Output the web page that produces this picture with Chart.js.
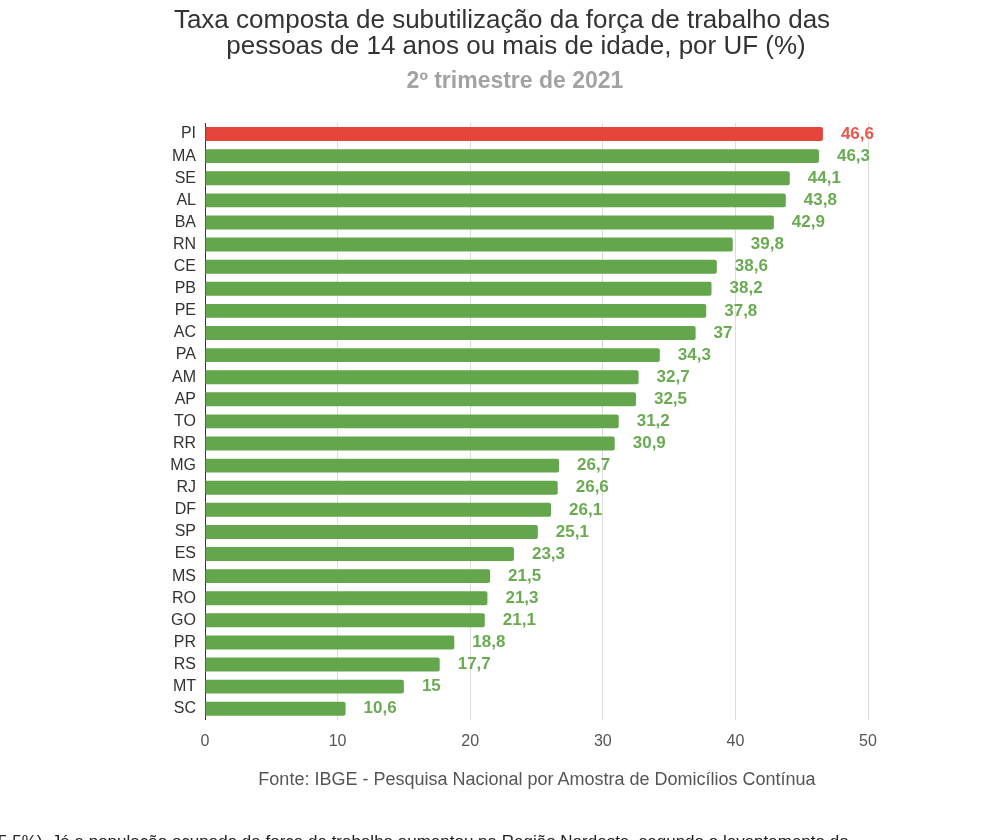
<!DOCTYPE html>
<html>
<head>
<meta charset="utf-8">
<script src="https://cdn.jsdelivr.net/npm/chart.js@4/dist/chart.umd.min.js"></script>
<style>
  body { margin: 0; background: #fff; font-family: "Liberation Sans", Arial, sans-serif; }
  #page { position: relative; width: 1000px; height: 840px; overflow: hidden; }
  #chart { position: absolute; left: 0; top: 0; }
  .centered { position: absolute; white-space: nowrap; transform: translateX(-50%); }
  .title { color: #333; font-size: 26px; line-height: 26px; }
  .subtitle { color: #a3a3a3; font-size: 23px; font-weight: bold; }
  .source { color: #555; font-size: 18px; }
  .article { position: absolute; left: -2px; top: 832px; white-space: nowrap; color: #222; font-size: 17px; }
</style>
</head>
<body>
<div id="page">
  <canvas id="chart" width="1000" height="840"></canvas>
  <div class="centered title" style="left:502px; top:6px">Taxa composta de subutilização da força de trabalho das</div>
  <div class="centered title" style="left:516px; top:32px">pessoas de 14 anos ou mais de idade, por UF (%)</div>
  <div class="centered subtitle" style="left:515px; top:67px">2º trimestre de 2021</div>
  <div class="centered source" style="left:537px; top:769px">Fonte: IBGE - Pesquisa Nacional por Amostra de Domicílios Contínua</div>
  <div class="article">5,5%). Já a população ocupada da força de trabalho aumentou na Região Nordeste, segundo o levantamento do</div>
</div>
<script>
// UFs, ordered as in the picture
const ufs = ["PI", "MA", "SE", "AL", "BA", "RN", "CE", "PB", "PE", "AC", "PA", "AM", "AP", "TO",
             "RR", "MG", "RJ", "DF", "SP", "ES", "MS", "RO", "GO", "PR", "RS", "MT", "SC"];
const taxas = [46.6, 46.3, 44.1, 43.8, 42.9, 39.8, 38.6, 38.2, 37.8, 37, 34.3, 32.7, 32.5, 31.2,
               30.9, 26.7, 26.6, 26.1, 25.1, 23.3, 21.5, 21.3, 21.1, 18.8, 17.7, 15, 10.6];
const destaque = ["PI"];
const xTicks = [0, 10, 20, 30, 40, 50];

const RED = "#e5443a";
const GREEN = "#64a64b";

const barColors = ufs.map(uf => destaque.includes(uf) ? RED : GREEN);
const labelColors = ufs.map(uf => destaque.includes(uf) ? "#e8564c" : "#6aab52");

// value labels at the end of each bar
const valueLabels = {
    id: "valueLabels",
    afterDatasetsDraw(chart) {
        const ctx = chart.ctx;
        const meta = chart.getDatasetMeta(0);
        ctx.save();
        ctx.font = "bold 17px 'Liberation Sans', Arial, sans-serif";
        ctx.textAlign = "left";
        ctx.textBaseline = "middle";
        meta.data.forEach((bar, i) => {
            ctx.fillStyle = labelColors[i];
            ctx.fillText(String(taxas[i]).replace(".", ","), bar.x + 18, bar.y);
        });
        ctx.restore();
    }
};

new Chart(document.getElementById("chart"), {
    type: "bar",
    data: {
        labels: ufs,
        datasets: [{
            data: taxas,
            backgroundColor: barColors,
            borderRadius: 2,
            borderSkipped: "start",
            categoryPercentage: 1,
            barPercentage: 0.63,
        }],
    },
    options: {
        indexAxis: "y",
        responsive: false,
        animation: false,
        layout: { padding: { top: 123, right: 132, bottom: 77, left: 0 } },
        plugins: {
            legend: { display: false },
            tooltip: { enabled: false },
        },
        scales: {
            x: {
                min: 0,
                max: 50,
                afterBuildTicks: scale => { scale.ticks = xTicks.map(v => ({ value: v })); },
                grid: { color: "#dcdcdc", drawTicks: false },
                border: { display: false },
                ticks: {
                    color: "#555",
                    padding: 12,
                    font: { family: "'Liberation Sans', Arial, sans-serif", size: 16 },
                },
            },
            y: {
                afterFit: scale => { scale.width = 205; },
                grid: { display: false, drawTicks: false },
                border: { display: true, color: "#333", width: 1 },
                ticks: {
                    autoSkip: false,
                    color: "#333",
                    padding: 9,
                    font: { family: "'Liberation Sans', Arial, sans-serif", size: 16 },
                },
            },
        },
    },
    plugins: [valueLabels],
});
</script>
</body>
</html>
